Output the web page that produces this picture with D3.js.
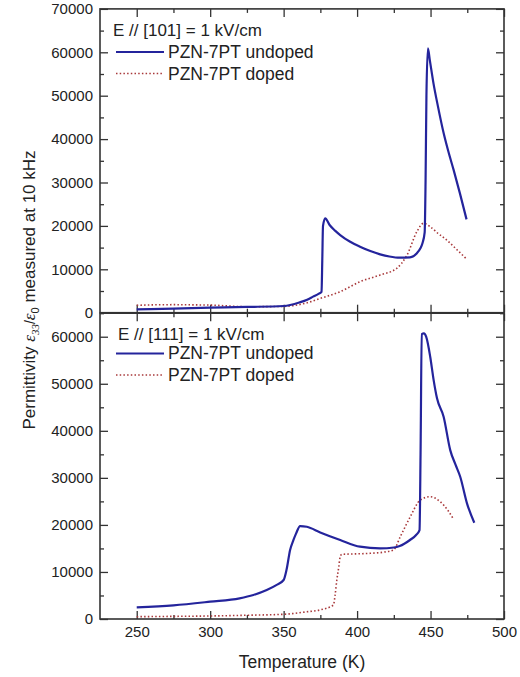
<!DOCTYPE html>
<html>
<head>
<meta charset="utf-8">
<script src="https://cdn.jsdelivr.net/npm/d3@7"></script>
<style>
  body { margin: 0; background: #fff; }
  text { font-family: Arial, "Liberation Sans", sans-serif; fill: #222; }
</style>
</head>
<body>
<svg id="chart" width="520" height="677"></svg>
<script>
// Temperature (K) / permittivity values
var xTicks = [250, 300, 350, 400, 450, 500];

// top panel: E // [101]
var topUndopedT = [250, 275, 300, 325, 350, 361, 366, 370, 374, 375.8, 376.3, 376.8, 378.3, 381.3, 385, 388.5, 395, 402, 409, 415.7, 422, 429, 436, 440.7, 443, 444.5, 446, 446.6, 447.2, 448.2, 449.5, 452, 455, 458.9, 462, 465.7, 470, 474.5];
var topUndopedV = [780, 950, 1150, 1320, 1540, 2400, 3000, 3700, 4400, 4800, 12000, 20000, 21750, 20200, 18900, 17900, 16400, 15200, 14200, 13450, 12950, 12670, 12760, 13700, 14800, 16000, 18500, 30000, 50000, 60900, 58200, 52850, 47600, 41400, 37300, 32900, 27500, 21500];
var topDopedT = [250, 260, 275, 290, 300, 325, 350, 365, 375, 388.5, 402, 415.7, 427, 434, 440.7, 445.2, 449.8, 455, 461, 468, 474.8];
var topDopedV = [1700, 1800, 1850, 1800, 1750, 1380, 1450, 2200, 3300, 4840, 7140, 8690, 10230, 13300, 18660, 20600, 19800, 18300, 16750, 14500, 12300];

// bottom panel: E // [111]
var botUndopedT = [250, 275, 300, 320, 329.4, 338.5, 345, 350, 352, 354.4, 356.7, 358.5, 361.2, 365.8, 374.9, 388.5, 402, 415.7, 425, 429, 436, 440, 442.5, 443.2, 444, 445.5, 447, 449.8, 452, 454.4, 458.9, 463.4, 467, 470.2, 474.8, 479.8];
var botUndopedV = [2490, 2900, 3680, 4400, 5100, 6160, 7200, 8290, 10500, 14660, 16800, 18200, 19760, 19600, 18400, 16790, 15370, 15020, 15200, 15510, 16790, 17800, 18910, 35000, 60560, 60700, 60000, 55700, 51000, 46900, 43000, 35900, 32800, 30240, 24590, 20460];
var botDopedT = [250, 275, 300, 325, 350, 365, 375, 383.9, 385, 386.2, 387.5, 388.5, 389.6, 400, 409, 418, 424.8, 429.4, 436.2, 443, 449.8, 456.6, 462, 465.7];
var botDopedV = [490, 560, 640, 800, 1000, 1500, 1950, 2975, 5000, 8290, 11000, 13240, 13750, 13850, 13960, 14200, 14660, 17490, 21740, 25290, 25990, 24930, 23000, 21190];

var panels = [
  { title: "E // [101] = 1 kV/cm", yMax: 70000, top: 8.9, bottom: 312.7,
    undoped: d3.zip(topUndopedT, topUndopedV), doped: d3.zip(topDopedT, topDopedV),
    titleX: 113, titleY: 36, legY: 52, showX: false },
  { title: "E // [111] = 1 kV/cm", yMax: 65000, top: 313.2, bottom: 619,
    undoped: d3.zip(botUndopedT, botUndopedV), doped: d3.zip(botDopedT, botDopedV),
    titleX: 118, titleY: 340, legY: 353.5, showX: true }
];

var blue = "#24249c", red = "#a8383a";
var left = 100, right = 504;
var svg = d3.select("#chart");
var x = d3.scaleLinear().domain([225, 500]).range([left, right]);

panels.forEach(function (p) {
  var y = d3.scaleLinear().domain([0, p.yMax]).range([p.bottom, p.top]);
  var g = svg.append("g");
  var major = d3.range(0, p.yMax + 1, 10000);
  var minor = d3.range(5000, p.yMax + 1, 10000);
  var xMinor = [275, 325, 375, 425, 475];

  // ticks all point inward
  function ax(gen, tr, vals, size, labels) {
    var a = gen.tickValues(vals).tickSize(-size).tickSizeOuter(0).tickPadding(7)
      .tickFormat(labels ? d3.format("d") : "");
    var s = g.append("g").attr("transform", tr).call(a);
    s.select(".domain").remove();
    s.selectAll("line").attr("stroke", "#333").attr("stroke-width", 1.3);
    s.selectAll("text").style("font-size", "15px").attr("fill", "#333");
    return s;
  }
  ax(d3.axisLeft(y), "translate(" + left + ",0)", major, 8, true);
  ax(d3.axisLeft(y), "translate(" + left + ",0)", minor, 4, false);
  ax(d3.axisRight(y), "translate(" + right + ",0)", major, 8, false);
  ax(d3.axisRight(y), "translate(" + right + ",0)", minor, 4, false);
  ax(d3.axisBottom(x), "translate(0," + p.bottom + ")", xTicks, 8, p.showX);
  ax(d3.axisBottom(x), "translate(0," + p.bottom + ")", xMinor, 4, false);
  ax(d3.axisTop(x), "translate(0," + p.top + ")", xTicks, 8, false);
  ax(d3.axisTop(x), "translate(0," + p.top + ")", xMinor, 4, false);

  g.append("rect").attr("x", left).attr("y", p.top)
    .attr("width", right - left).attr("height", p.bottom - p.top)
    .attr("fill", "none").attr("stroke", "#333").attr("stroke-width", 1.6);

  var line = d3.line().x(d => x(d[0])).y(d => y(d[1])).curve(d3.curveMonotoneX);
  g.append("path").datum(p.doped).attr("d", line)
    .attr("fill", "none").attr("stroke", red).attr("stroke-width", 1.6).attr("stroke-dasharray", "1.5,2.2");
  g.append("path").datum(p.undoped).attr("d", line)
    .attr("fill", "none").attr("stroke", blue).attr("stroke-width", 2.2);

  // legend
  g.append("text").attr("x", p.titleX).attr("y", p.titleY).style("font-size", "17px").text(p.title);
  g.append("line").attr("x1", 116).attr("x2", 164).attr("y1", p.legY).attr("y2", p.legY)
    .attr("stroke", blue).attr("stroke-width", 2.2);
  g.append("text").attr("x", 168).attr("y", p.legY + 5.5).style("font-size", "17.5px").text("PZN-7PT undoped");
  g.append("line").attr("x1", 116).attr("x2", 164).attr("y1", p.legY + 21.5).attr("y2", p.legY + 21.5)
    .attr("stroke", red).attr("stroke-width", 1.6).attr("stroke-dasharray", "1.5,2.2");
  g.append("text").attr("x", 168).attr("y", p.legY + 27.5).style("font-size", "17.5px").text("PZN-7PT doped");
});

// axis titles
svg.append("text").attr("x", 302).attr("y", 668).attr("text-anchor", "middle")
  .style("font-size", "17.5px").text("Temperature (K)");

var yl = svg.append("text").attr("transform", "translate(35,290) rotate(-90)")
  .attr("text-anchor", "middle").style("font-size", "17px");
yl.append("tspan").text("Permittivity ");
yl.append("tspan").style("font-family", "'Liberation Serif', serif").style("font-style", "italic").text("ε");
yl.append("tspan").attr("dy", 4).style("font-size", "11px").style("font-family", "'Liberation Serif', serif").style("font-style", "italic").text("33");
yl.append("tspan").attr("dy", -4).style("font-size", "14px").text("/");
yl.append("tspan").style("font-family", "'Liberation Serif', serif").style("font-style", "italic").text("ε");
yl.append("tspan").attr("dy", 4).style("font-size", "11px").text("0");
yl.append("tspan").attr("dy", -4).text(" measured at 10 kHz");
</script>
</body>
</html>
